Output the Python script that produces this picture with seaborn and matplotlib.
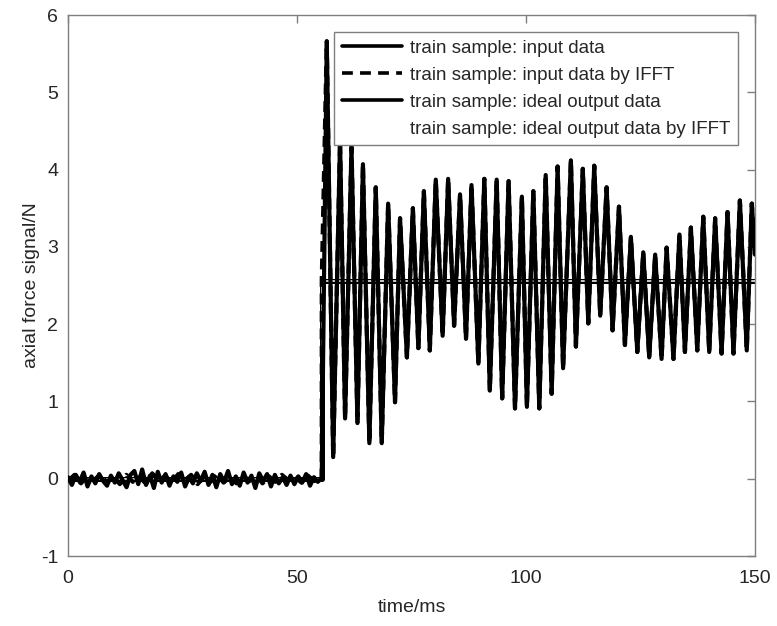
import numpy as np
import pandas as pd
import seaborn as sns
from matplotlib import pyplot as plt
from matplotlib.lines import Line2D

# pre-step noise of the input signal
noise_input = [0.02, -0.08, 0.05, -0.04, 0.08, -0.10, 0.03, -0.06, 0.06, -0.03, -0.09, 0.04,
               -0.05, 0.07, -0.02, -0.11, 0.05, 0.10, -0.07, 0.12, -0.08, 0.04, -0.12, 0.09,
               -0.05, 0.06, -0.09, 0.03, -0.04, 0.08, -0.10, 0.02, -0.06, 0.07, -0.03, 0.09,
               -0.08, 0.05, -0.11, 0.06, -0.04, 0.10, -0.07, 0.03, -0.09, 0.08, -0.05, 0.04,
               -0.12, 0.07, -0.03, 0.06, -0.10, 0.05, -0.06, 0.02, -0.08, 0.04, -0.07, 0.03,
               -0.05, 0.06, -0.09, 0.02, -0.04, 0.01]
noise_ifft = [-0.03, 0.05, -0.06, 0.04, -0.02, 0.06, -0.05, 0.03, -0.07, 0.05, -0.04, 0.02,
              -0.06, 0.07, -0.03, 0.04, -0.05, 0.06, -0.02, 0.05, -0.07, 0.03, -0.04, 0.06,
              -0.05, 0.02, -0.06, 0.04, -0.03, 0.05, -0.06, 0.03, -0.04, 0.05, -0.02, 0.03,
              -0.05, 0.04, -0.03, 0.02]

step_t = 55.4
ideal_level = 2.56

peak_t = [56.5, 59.4, 61.9, 64.4, 67.2, 69.9, 72.5, 75.3, 77.7, 80.3, 83.0, 85.6,
          88.1, 90.9, 93.6, 96.2, 99.1, 101.6, 104.3, 106.9, 109.8, 112.4, 114.9, 117.6,
          120.3, 122.9, 125.6, 128.2, 130.7, 133.5, 136.0, 138.7, 141.3, 144.0, 146.7, 149.3]
peak_v = [5.66, 4.37, 4.29, 4.07, 3.77, 3.56, 3.37, 3.50, 3.72, 3.87, 3.88, 3.68,
          3.80, 3.88, 3.87, 3.85, 3.65, 3.72, 3.93, 4.04, 4.12, 4.01, 4.05, 3.77,
          3.52, 3.13, 2.93, 2.90, 2.99, 3.16, 3.25, 3.39, 3.37, 3.45, 3.60, 3.56]
trough_t = [57.9, 60.5, 63.2, 65.8, 68.5, 71.4, 74.0, 76.5, 79.0, 81.8, 84.3, 86.9,
            89.6, 92.1, 94.8, 97.6, 100.2, 102.9, 105.6, 108.1, 110.9, 113.6, 116.2, 118.9,
            121.6, 124.3, 126.9, 129.6, 132.2, 134.7, 137.4, 140.0, 142.7, 145.3, 148.2]
trough_v = [0.28, 0.78, 0.72, 0.46, 0.46, 0.99, 1.57, 1.69, 1.66, 1.85, 1.98, 1.81,
            1.49, 1.14, 1.04, 0.91, 0.93, 0.91, 1.10, 1.43, 1.71, 2.01, 2.11, 1.92,
            1.73, 1.64, 1.57, 1.55, 1.55, 1.64, 1.66, 1.64, 1.62, 1.62, 1.66]
end_t, end_v = 150.0, 2.9

labels = ['train sample: input data',
          'train sample: input data by IFFT',
          'train sample: ideal output data',
          'train sample: ideal output data by IFFT']

# oscillation: alternate peaks and troughs
osc_t, osc_v = [], []
for i in range(len(peak_t)):
    osc_t.append(peak_t[i]); osc_v.append(peak_v[i])
    if i < len(trough_t):
        osc_t.append(trough_t[i]); osc_v.append(trough_v[i])
osc_t.append(end_t); osc_v.append(end_v)

t_in = list(np.linspace(0, step_t, len(noise_input))) + osc_t
v_in = noise_input + osc_v
t_ifft = list(np.linspace(0, step_t - 0.2, len(noise_ifft))) + [step_t, step_t] + osc_t
v_ifft = noise_ifft + [0.0, ideal_level] + osc_v
t_ideal = [0, step_t, step_t, 150]
v_ideal = [0, 0, ideal_level, ideal_level]

df_in = pd.DataFrame({'t': t_in, 'v': v_in})
df_ifft = pd.DataFrame({'t': t_ifft, 'v': v_ifft})
df_ideal = pd.DataFrame({'t': t_ideal, 'v': v_ideal})

sns.set_theme(style='white')
plt.rcParams['font.family'] = ['Liberation Sans', 'DejaVu Sans']
plt.rcParams['axes.unicode_minus'] = False

fig = plt.figure(figsize=(7.77, 6.26), dpi=100)
ax = fig.add_axes([0.0875, 0.1118, 0.8842, 0.8642])

sns.lineplot(data=df_ideal, x='t', y='v', sort=False, estimator=None, color='black', lw=3.6, ax=ax, zorder=2)
sns.lineplot(data=df_ideal, x='t', y='v', sort=False, estimator=None, color='white', lw=1.1, ax=ax, zorder=3)
sns.lineplot(data=df_in, x='t', y='v', sort=False, estimator=None, color='black', lw=3.0, ax=ax, zorder=4)
sns.lineplot(data=df_ifft, x='t', y='v', sort=False, estimator=None, color='black', lw=3.0, ax=ax, zorder=5)
ax.lines[-1].set_linestyle((0, (2.6, 1.6)))

ax.set_xlim(0, 150)
ax.set_ylim(-1, 6)
ax.set_xticks([0, 50, 100, 150])
ax.set_yticks(range(-1, 7))
ax.set_xlabel('time/ms', fontsize=14, color='#262626', labelpad=9)
ax.set_ylabel('axial force signal/N', fontsize=14, color='#262626', labelpad=1)
ax.tick_params(direction='in', length=6, width=1, color='#7f7f7f', labelsize=14,
               labelcolor='#262626', top=True, right=True)
ax.tick_params(axis='x', pad=10)
ax.tick_params(axis='y', pad=7)
for s in ax.spines.values():
    s.set_color('#7f7f7f')
    s.set_linewidth(1.0)

handles = [Line2D([], [], color='black', lw=2.6),
           Line2D([], [], color='black', lw=2.6, ls=(0, (3.0, 2.0))),
           Line2D([], [], color='black', lw=2.6),
           Line2D([], [], color='white', lw=2.6)]
leg = ax.legend(handles, labels, loc='upper right', bbox_to_anchor=(0.975, 0.968),
                fontsize=13.5, frameon=True, fancybox=False, framealpha=1,
                edgecolor='#7f7f7f', handlelength=3.2, handletextpad=0.45,
                labelspacing=0.52, borderpad=0.4, borderaxespad=0)
leg.get_frame().set_linewidth(1.0)

fig.savefig('out.png', dpi=100)
